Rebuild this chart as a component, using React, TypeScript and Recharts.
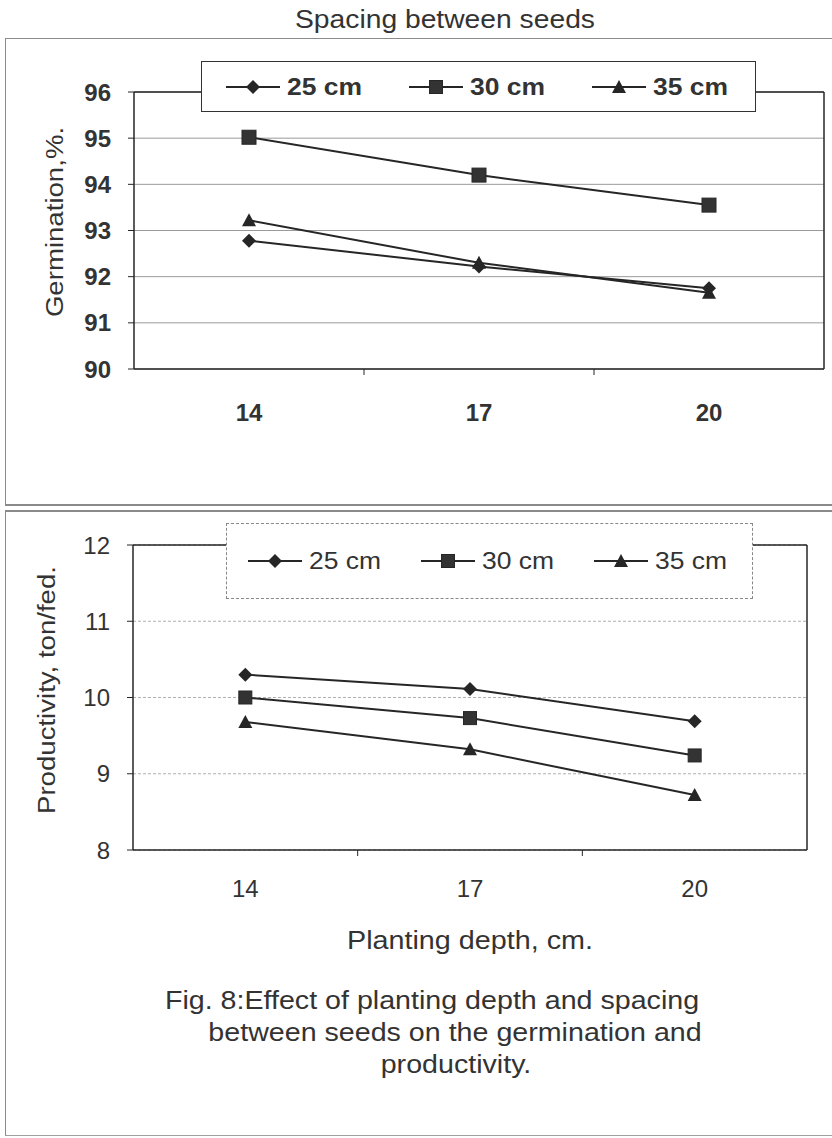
import React from 'react';
import { LineChart, Line, XAxis, YAxis, CartesianGrid, Legend, ReferenceLine } from 'recharts';

const FONT = '"Liberation Sans", Arial, sans-serif';
const SX = 1.15; // horizontal stretch of the scanned lettering

// ---- data ----
const depths = [14, 17, 20];
const seriesNames = ['25 cm', '30 cm', '35 cm'];
const germination25 = [92.78, 92.22, 91.75];
const germination30 = [95.02, 94.2, 93.55];
const germination35 = [93.22, 92.3, 91.65];
const productivity25 = [10.3, 10.11, 9.69];
const productivity30 = [10.0, 9.73, 9.24];
const productivity35 = [9.68, 9.32, 8.72];
const germinationTicks = [90, 91, 92, 93, 94, 95, 96];
const productivityTicks = [8, 9, 10, 11, 12];
const xTicks = [14, 15.5, 17, 18.5, 20];
const separatorTicks = [15.5, 18.5];
const xDomain = [12.5, 21.5];

const germData = depths.map((d, i) => ({
  depth: d,
  s25: germination25[i],
  s30: germination30[i],
  s35: germination35[i],
}));
const prodData = depths.map((d, i) => ({
  depth: d,
  s25: productivity25[i],
  s30: productivity30[i],
  s35: productivity35[i],
}));

const keys = ['s25', 's30', 's35'];
const shapes: Record<string, string> = { s25: 'diamond', s30: 'square', s35: 'triangle' };
const INK = '#262626';
const TXT = '#333';

function Marker({ shape, cx, cy, size }: any) {
  if (cx == null || cy == null) return <g />;
  const h = size / 2;
  if (shape === 'diamond') {
    return <polygon points={`${cx},${cy - h} ${cx + h},${cy} ${cx},${cy + h} ${cx - h},${cy}`} fill={INK} />;
  }
  if (shape === 'square') {
    return <rect x={cx - h + 0.5} y={cy - h + 0.5} width={size - 1} height={size - 1} fill="#333" stroke={INK} strokeWidth={1} />;
  }
  return <polygon points={`${cx},${cy - h} ${cx + h},${cy + h - 1} ${cx - h},${cy + h - 1}`} fill={INK} />;
}

const makeDot = (shape: string, size: number) => (p: any) => (
  <Marker key={`d-${shape}-${p.index}`} shape={shape} cx={p.cx} cy={p.cy} size={size} />
);

const XTick = ({ x, y, payload, fontWeight, labelDy }: any) => {
  const v = payload.value;
  if (separatorTicks.includes(v)) {
    return <line x1={x} x2={x} y1={y} y2={y + 6} stroke={INK} strokeWidth={1} />;
  }
  return (
    <text x={x} y={y + labelDy} textAnchor="middle" dominantBaseline="central" fill={TXT} fontSize={24} fontWeight={fontWeight} fontFamily={FONT}>
      {v}
    </text>
  );
};

const yTitle = (text: string, fromLeft: number, shiftY: number) => (props: any) => {
  const vb = props.viewBox || {};
  const cx = (vb.x ?? 0) + fromLeft;
  const cy = (vb.y ?? 0) + (vb.height ?? 0) / 2 + shiftY;
  return (
    <text
      x={0}
      y={0}
      transform={`translate(${cx} ${cy}) rotate(-90) scale(${SX} 1)`}
      textAnchor="middle"
      dominantBaseline="central"
      fill={TXT}
      fontSize={24}
      fontFamily={FONT}
    >
      {text}
    </text>
  );
};

const xTitle = (text: string, dx: number, dy: number) => (props: any) => {
  const vb = props.viewBox || {};
  const cx = (vb.x ?? 0) + (vb.width ?? 0) / 2 + dx;
  const cy = (vb.y ?? 0) + dy;
  return (
    <text
      x={0}
      y={0}
      transform={`translate(${cx} ${cy}) scale(${SX} 1)`}
      textAnchor="middle"
      dominantBaseline="central"
      fill={TXT}
      fontSize={25}
      fontFamily={FONT}
    >
      {text}
    </text>
  );
};

const LegendBox = ({ payload, padLeft, itemW, fontWeight, border, markerSize }: any) => {
  const items = (payload || []).slice().sort((a: any, b: any) => keys.indexOf(a.dataKey) - keys.indexOf(b.dataKey));
  return (
    <div
      style={{
        boxSizing: 'border-box',
        width: '100%',
        height: '100%',
        background: '#fff',
        border,
        display: 'flex',
        alignItems: 'center',
        paddingLeft: padLeft,
      }}
    >
      {items.map((e: any) => (
        <div key={e.dataKey} style={{ width: itemW, flex: 'none', display: 'flex', alignItems: 'center' }}>
          <svg width={54} height={20} style={{ display: 'block' }}>
            <line x1={0} x2={54} y1={10} y2={10} stroke={INK} strokeWidth={2} />
            <Marker shape={shapes[e.dataKey]} cx={27} cy={10} size={markerSize} />
          </svg>
          <span
            style={{
              display: 'inline-block',
              marginLeft: 7,
              fontSize: 23,
              fontWeight,
              color: TXT,
              fontFamily: FONT,
              lineHeight: '24px',
              whiteSpace: 'nowrap',
              transform: `scaleX(${SX})`,
              transformOrigin: 'left center',
            }}
          >
            {e.value}
          </span>
        </div>
      ))}
    </div>
  );
};

const textLine = (text: string, cx: number, top: number, size: number, sx: number) => (
  <div
    style={{
      position: 'absolute',
      left: cx,
      top,
      transform: `translateX(-50%) scaleX(${sx})`,
      transformOrigin: 'center',
      whiteSpace: 'nowrap',
      fontSize: size,
      color: TXT,
      lineHeight: '32px',
      fontFamily: FONT,
    }}
  >
    {text}
  </div>
);

export default function App() {
  return (
    <div style={{ position: 'relative', width: 832, height: 1138, background: '#fff', fontFamily: FONT, overflow: 'hidden' }}>
      <style>{'body{margin:0;background:#fff}'}</style>

      {/* panel frames */}
      <div style={{ position: 'absolute', left: 5, top: 38, width: 840, height: 468, borderLeft: '1px solid #8a8a8a', borderTop: '1px solid #8a8a8a', borderBottom: '2px solid #8a8a8a', boxSizing: 'border-box' }} />
      <div style={{ position: 'absolute', left: 5, top: 510, width: 840, height: 626, borderLeft: '1px solid #8a8a8a', borderTop: '2px solid #8a8a8a', borderBottom: '1px solid #a0a0a0', boxSizing: 'border-box' }} />

      {/* top chart */}
      <div style={{ position: 'absolute', left: 0, top: 0 }}>
        <LineChart width={832} height={505} data={germData} margin={{ top: 92, right: 8, left: 0, bottom: 96 }}>
          <CartesianGrid vertical={false} stroke="#9a9a9a" strokeWidth={1} />
          <XAxis
            dataKey="depth"
            type="number"
            domain={xDomain}
            ticks={xTicks}
            interval={0}
            height={40}
            tickSize={0}
            tickMargin={0}
            tickLine={false}
            axisLine={{ stroke: INK, strokeWidth: 1.5 }}
            tick={<XTick fontWeight={700} labelDy={43} />}
          />
          <YAxis
            type="number"
            domain={[90, 96]}
            ticks={germinationTicks}
            interval={0}
            width={134}
            tickSize={6}
            tickMargin={17}
            axisLine={{ stroke: INK, strokeWidth: 1.5 }}
            tickLine={{ stroke: INK }}
            tick={{ fill: TXT, fontSize: 24, fontWeight: 700, fontFamily: FONT }}
            label={{ content: yTitle('Germination,%.', 55, -8.5) }}
          />
          <ReferenceLine y={96} stroke={INK} strokeWidth={1.5} />
          <ReferenceLine x={21.5} stroke={INK} strokeWidth={1.5} />
          <Legend
            layout="horizontal"
            verticalAlign="middle"
            align="center"
            width={555}
            height={51}
            wrapperStyle={{ top: 61, left: 201, width: 555, height: 51 }}
            content={(p: any) => (
              <LegendBox payload={p.payload} padLeft={24} itemW={183} fontWeight={700} border="1.5px solid #333" markerSize={14} />
            )}
          />
          {keys.map((k, i) => (
            <Line
              key={k}
              dataKey={k}
              name={seriesNames[i]}
              stroke={INK}
              strokeWidth={2}
              dot={makeDot(shapes[k], k === 's30' ? 15 : 14)}
              isAnimationActive={false}
            />
          ))}
        </LineChart>
      </div>

      {/* bottom chart */}
      <div style={{ position: 'absolute', left: 0, top: 510 }}>
        <LineChart width={832} height={625} data={prodData} margin={{ top: 35, right: 25, left: 0, bottom: 245 }}>
          <CartesianGrid vertical={false} stroke="#b0b0b0" strokeWidth={1} strokeDasharray="3 2" />
          <XAxis
            dataKey="depth"
            type="number"
            domain={xDomain}
            ticks={xTicks}
            interval={0}
            height={40}
            tickSize={0}
            tickMargin={0}
            tickLine={false}
            axisLine={{ stroke: INK, strokeWidth: 1.5 }}
            tick={<XTick fontWeight={400} labelDy={38} />}
            label={{ content: xTitle('Planting depth, cm.', 0, 91) }}
          />
          <YAxis
            type="number"
            domain={[8, 12]}
            ticks={productivityTicks}
            interval={0}
            width={133}
            tickSize={6}
            tickMargin={17}
            axisLine={{ stroke: INK, strokeWidth: 1.5 }}
            tickLine={{ stroke: INK }}
            tick={{ fill: TXT, fontSize: 24, fontWeight: 400, fontFamily: FONT }}
            label={{ content: yTitle('Productivity, ton/fed.', 47, -7.5) }}
          />
          <ReferenceLine y={12} stroke={INK} strokeWidth={1.5} />
          <ReferenceLine x={21.5} stroke={INK} strokeWidth={1.5} />
          <Legend
            layout="horizontal"
            verticalAlign="middle"
            align="center"
            width={527}
            height={76}
            wrapperStyle={{ top: 13, left: 226, width: 527, height: 76 }}
            content={(p: any) => (
              <LegendBox payload={p.payload} padLeft={21} itemW={173} fontWeight={400} border="1px dashed #888" markerSize={14} />
            )}
          />
          {keys.map((k, i) => (
            <Line
              key={k}
              dataKey={k}
              name={seriesNames[i]}
              stroke={INK}
              strokeWidth={2}
              dot={makeDot(shapes[k], 14)}
              isAnimationActive={false}
            />
          ))}
        </LineChart>
      </div>

      {/* title */}
      {textLine('Spacing between seeds', 445, 3, 25, 1.13)}

      {/* caption */}
      {textLine('Fig. 8:Effect of planting depth and spacing', 432, 984, 25, 1.145)}
      {textLine('between seeds on the germination and', 455, 1016, 25, 1.145)}
      {textLine('productivity.', 456, 1048, 25, 1.145)}
    </div>
  );
}
